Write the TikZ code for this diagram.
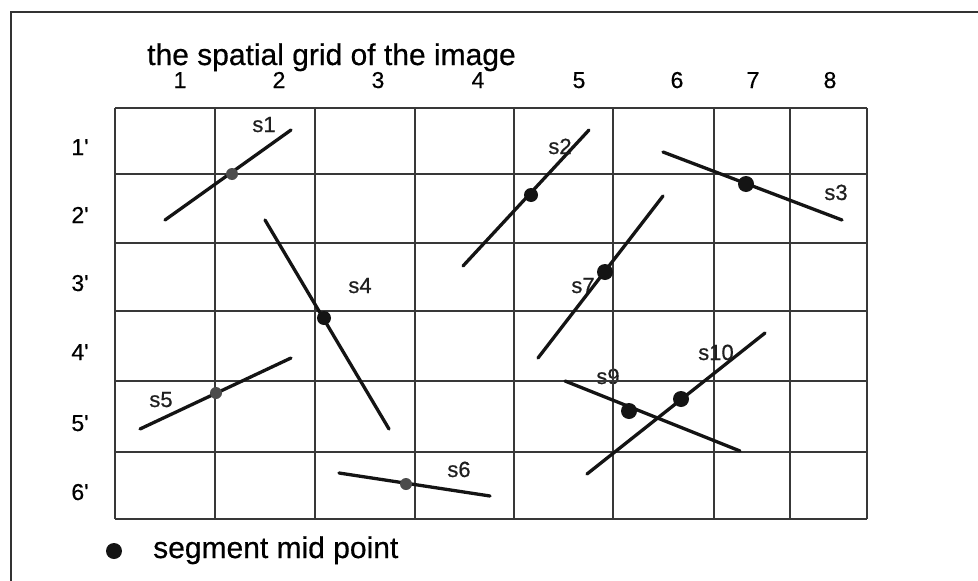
\documentclass[tikz,border=0pt]{standalone}
\usepackage{fontspec}
\setmainfont{Liberation Sans}[FakeBold=0.5]
\begin{document}
\begin{tikzpicture}[x=1pt,y=-1pt,
  gridline/.style={draw=black!78, line width=1.8pt},
  frameline/.style={draw=black!80, line width=2pt},
  seg/.style={draw=black!92, line width=3.3pt, line cap=round},
  bigdot/.style={circle, fill=black!92, inner sep=0pt, minimum size=16pt},
  middot/.style={circle, fill=black!92, inner sep=0pt, minimum size=14pt},
  smalldot/.style={circle, fill=black!70, inner sep=0pt, minimum size=12pt},
  titletext/.style={font=\fontsize{30}{34}\selectfont, anchor=base west, inner sep=0pt},
  axislabel/.style={font=\fontsize{23}{26}\selectfont, anchor=base, inner sep=0pt},
  seglabel/.style={font=\fontsize{22}{26}\selectfont, anchor=base, inner sep=0pt, text=black!88}
]
\useasboundingbox (0,0) rectangle (978,581);
\fill[white] (0,0) rectangle (978,581);

% frame (top and left edges)
\coordinate (ftl) at (11,12);
\coordinate (ftr) at (978,12);
\coordinate (fbl) at (11,581);
\draw[frameline] (ftr) -- (ftl) -- (fbl);

% title and axis labels
\node[titletext] (title) at (147,65) {the spatial grid of the image};
\foreach \n/\x in {1/180,2/279,3/378,4/478,5/579,6/677,7/753,8/830}
  \node[axislabel] (col\n) at (\x,88) {\n};
\foreach \n/\y in {1/155,2/223,3/291,4/360,5/431,6/500}
  \node[axislabel] (row\n) at (80,\y) {\n\textquotesingle};

% s-labels that lie under lines
\node[seglabel] (l7) at (583,293) {s7};
\node[seglabel] (l9) at (608,384) {s9};

% grid
\foreach \x in {115,215,315,415,514,613,714,790,867}
  \draw[gridline] (\x,108) -- (\x,519);
\foreach \y in {108,174,243,311,381,452,519}
  \draw[gridline] (115,\y) -- (867,\y);

% segment end points
\coordinate (s1a) at (165,220);  \coordinate (s1b) at (291,130);
\coordinate (s2a) at (463,266);  \coordinate (s2b) at (589,130);
\coordinate (s3a) at (663,152);  \coordinate (s3b) at (842,220);
\coordinate (s4a) at (265,220);  \coordinate (s4b) at (389,429);
\coordinate (s5a) at (140,429);  \coordinate (s5b) at (291,358);
\coordinate (s6a) at (339,473);  \coordinate (s6b) at (490,496);
\coordinate (s7a) at (538,358);  \coordinate (s7b) at (663,196);
\coordinate (s9a) at (565,381);  \coordinate (s9b) at (740,451);
\coordinate (s10a) at (587,474); \coordinate (s10b) at (765,333);

\foreach \s in {1,2,3,4,5,6,7,9,10}
  \draw[seg] (s\s a) -- (s\s b);

% mid points
\node[smalldot] (m1) at (232,174) {};
\node[middot]   (m2) at (531,195) {};
\node[bigdot]   (m3) at (746,184) {};
\node[middot]   (m4) at (324,318) {};
\node[smalldot] (m5) at (216,393) {};
\node[smalldot] (m6) at (406,484) {};
\node[bigdot]   (m7) at (605,272) {};
\node[bigdot]   (m9) at (629,411) {};
\node[bigdot]   (m10) at (681,399) {};

% segment labels
\node[seglabel] (l1) at (264,132) {s1};
\node[seglabel] (l2) at (560,154) {s2};
\node[seglabel] (l3) at (836,200) {s3};
\node[seglabel] (l4) at (360,293) {s4};
\node[seglabel] (l5) at (161,407) {s5};
\node[seglabel] (l6) at (459,477) {s6};
\node[seglabel] (l10) at (716,360) {s10};

% legend
\node[bigdot] (legdot) at (114,551) {};
\node[titletext] (legtext) at (153,558) {segment mid point};
\end{tikzpicture}
\end{document}
